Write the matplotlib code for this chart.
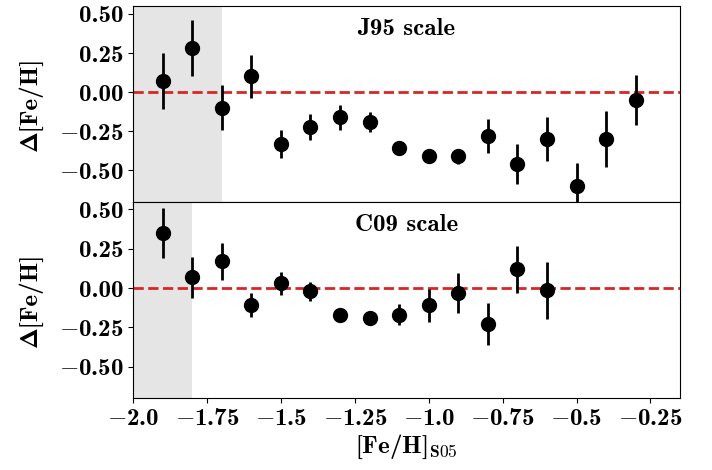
"""Delta [Fe/H] vs [Fe/H]_S05 for the J95 and C09 scales."""
import numpy as np
import matplotlib
matplotlib.use('Agg')
import matplotlib.pyplot as plt

plt.rcParams['mathtext.fontset'] = 'cm'
plt.rcParams['font.family'] = ['cmb10', 'DejaVu Serif']

# J95 scale (top panel)
feh_j95 = [-1.9, -1.8, -1.7, -1.6, -1.5, -1.4, -1.3, -1.2, -1.1, -1.0,
           -0.9, -0.8, -0.7, -0.6, -0.5, -0.4, -0.3]
dfeh_j95 = [0.07, 0.28, -0.10, 0.10, -0.33, -0.22, -0.16, -0.19, -0.36, -0.41,
            -0.41, -0.28, -0.46, -0.30, -0.60, -0.30, -0.05]
err_j95 = [0.18, 0.18, 0.145, 0.135, 0.09, 0.083, 0.08, 0.063, 0.02, 0.02,
           0.048, 0.108, 0.13, 0.143, 0.146, 0.18, 0.157]

# C09 scale (bottom panel)
feh_c09 = [-1.9, -1.8, -1.7, -1.6, -1.5, -1.4, -1.3, -1.2, -1.1, -1.0,
           -0.9, -0.8, -0.7, -0.6]
dfeh_c09 = [0.35, 0.07, 0.17, -0.11, 0.03, -0.02, -0.17, -0.19, -0.17, -0.11,
            -0.03, -0.23, 0.12, -0.015]
err_c09 = [0.16, 0.13, 0.116, 0.077, 0.075, 0.06, 0.02, 0.02, 0.066, 0.107,
           0.128, 0.134, 0.15, 0.183]

xticks = [-2.0, -1.75, -1.5, -1.25, -1.0, -0.75, -0.5, -0.25]
xticklabels = ['-2.0', '-1.75', '-1.5', '-1.25', '-1.0', '-0.75', '-0.5', '-0.25']
yticks = [-0.5, -0.25, 0.0, 0.25, 0.5]
yticklabels = ['-0.50', '-0.25', '0.00', '0.25', '0.50']

FS = 18


def tick_text(s):
    # long minus from mathtext, digits in bold CM
    if s.startswith('-'):
        return '$-$' + s[1:]
    return s


fig = plt.figure(figsize=(7.12, 4.7), dpi=100)
ax1 = fig.add_axes([0.187, 0.571, 0.768, 0.416])
ax2 = fig.add_axes([0.187, 0.153, 0.768, 0.418], sharex=ax1)

panels = [(ax1, feh_j95, dfeh_j95, err_j95, -1.7, 'J95 scale'),
          (ax2, feh_c09, dfeh_c09, err_c09, -1.8, 'C09 scale')]

for ax, x, y, e, shade_end, title in panels:
    ax.axvspan(-2.1, shade_end, color='gray', alpha=0.2, lw=0, zorder=0)
    ax.axhline(0.0, color='#d62728', ls='--', lw=2, zorder=1)
    ax.errorbar(x, y, yerr=e, fmt='o', color='k', ms=10, elinewidth=2,
                capsize=0, zorder=3)
    ax.text(0.5, 0.883, title, transform=ax.transAxes,
            ha='center', va='center', fontsize=FS)
    ax.set_ylim(-0.7, 0.55)
    ax.set_yticks(yticks, labels=[tick_text(t) for t in yticklabels], fontsize=FS)
    ax.set_ylabel('\u00a2[Fe/H]', fontsize=FS)
    ax.yaxis.set_label_coords(-0.166, 0.5)

ax1.set_xlim(-2.0, -0.15)
ax2.set_xticks(xticks, labels=[tick_text(t) for t in xticklabels], fontsize=FS)
ax1.tick_params(labelbottom=False)
ax2.set_xlabel(r'[Fe/H]$_{\mathbf{S05}}$', fontsize=FS, labelpad=2)

fig.savefig('out.png', dpi=100)
